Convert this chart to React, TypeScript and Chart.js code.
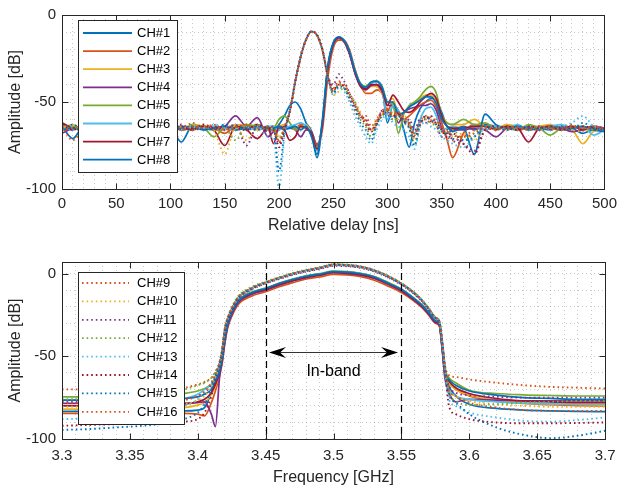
import React, { useEffect, useRef } from 'react';
import { Chart, registerables } from 'chart.js';

Chart.register(...registerables);

const FONT = "'Liberation Sans', Arial, Helvetica, sans-serif";
const AXIS_COLOR = '#262626';
const GRID_COLOR = 'rgba(38,38,38,0.25)';
const PALETTE = ['#0072BD', '#D95319', '#EDB120', '#7E2F8E', '#77AC30', '#4DBEEE', '#A2142F'];

// ---------- x values ----------
const delayNs = [0, 10, 20, 30, 40, 50, 60, 70, 80, 90, 100, 110, 120, 130, 140, 150, 160, 170, 180, 190,
  195, 200, 205, 210, 215, 220, 225, 230, 235, 240, 245, 250, 255, 260, 265, 270, 275, 280, 285, 290, 295,
  300, 305, 310, 315, 320, 325, 330, 335, 340, 345, 350, 355, 360,
  370, 380, 390, 400, 410, 420, 430, 440, 450, 460, 470, 480, 490, 500];

const freqGHz = [3.30, 3.32, 3.34, 3.36, 3.38, 3.39, 3.40, 3.405, 3.41, 3.413, 3.416, 3.418,
  3.42, 3.422, 3.425, 3.43, 3.44, 3.45, 3.46, 3.47, 3.48, 3.49, 3.50, 3.51, 3.52, 3.53, 3.54, 3.55, 3.56, 3.565, 3.57, 3.575, 3.578, 3.58, 3.582,
  3.585, 3.59, 3.60, 3.62, 3.64, 3.66, 3.68, 3.70];

const chLabels = ['CH#1', 'CH#2', 'CH#3', 'CH#4', 'CH#5', 'CH#6', 'CH#7', 'CH#8',
  'CH#9', 'CH#10', 'CH#11', 'CH#12', 'CH#13', 'CH#14', 'CH#15', 'CH#16'];

// ---------- delay profiles [dB] ----------
const delayCH1 = [-64, -71, -64, -66, -65, -64, -66, -65, -64, -66, -65, -73, -64, -65, -66, -64, -66, -64, -65, -66,
  -66, -63, -58, -52, -50, -54, -62, -67, -82, -62, -30, -16, -12.8, -15, -22, -33, -40, -42, -39, -38.5, -42,
  -62, -52, -55, -66, -76, -62, -54, -50, -48, -49, -56, -64, -66,
  -64, -66, -63, -64, -65, -66, -64, -65, -66, -64, -65, -68, -66, -66];
const delayCH2 = [-63, -66, -64, -65, -63, -66, -64, -65, -66, -63, -65, -64, -66, -64, -65, -68, -64, -65, -63, -66,
  -64, -65, -66, -64, -65, -63, -64, -68, -74, -66, -36, -19, -14.5, -14.5, -20, -31, -40, -45, -45, -43, -45,
  -55, -50, -56, -60, -58, -55, -52, -50, -49, -53, -62, -72, -82,
  -68, -63, -64, -65, -64, -66, -65, -64, -65, -66, -64, -65, -65, -65];
const delayCH3 = [-65, -63, -66, -64, -65, -63, -65, -64, -63, -65, -64, -66, -63, -64, -66, -65, -63, -64, -66, -64,
  -65, -64, -63, -65, -64, -65, -63, -68, -76, -63, -32, -17.5, -13.5, -15.5, -22, -33, -41, -43, -41, -41, -45,
  -50, -48, -58, -56, -53, -50, -48, -46, -46, -50, -58, -62, -63,
  -63, -60, -64, -65, -63, -64, -66, -64, -63, -65, -66, -74, -67, -66];
const delayCH4 = [-68, -65, -64, -66, -65, -64, -65, -66, -64, -65, -66, -64, -65, -64, -66, -64, -58, -64, -59, -70,
  -67, -66, -64, -65, -66, -70, -66, -67, -75, -63, -32, -17.5, -13.5, -15.5, -22.5, -33.5, -41, -43, -40.5, -40, -44,
  -52, -52, -62, -56, -54, -53, -52, -52, -51, -55, -65, -68, -66,
  -66, -65, -66, -70, -65, -64, -65, -66, -64, -65, -67, -66, -64, -65];
const delayCH5 = [-66, -64, -65, -63, -66, -65, -64, -66, -65, -64, -63, -65, -66, -65, -70, -65, -66, -63, -64, -65,
  -65, -60, -58, -62, -66, -64, -65, -68, -76, -62, -31, -17, -13, -15, -21.5, -32, -39, -41, -38.5, -38, -41,
  -50, -51, -68, -57, -52, -50, -47, -43, -41, -45, -58, -62, -63,
  -60, -63, -62, -65, -64, -66, -63, -65, -69, -65, -64, -65, -64, -66];
const delayCH6 = [-65, -66, -64, -65, -66, -64, -65, -63, -65, -66, -64, -65, -64, -66, -64, -65, -64, -66, -65, -64,
  -64, -66, -65, -64, -63, -62, -64, -69, -78, -62, -30, -16.5, -13, -15, -21.5, -32.5, -40, -42, -39, -38.5, -42,
  -60, -52, -55, -60, -62, -68, -60, -54, -53, -58, -66, -65, -64,
  -65, -64, -66, -64, -65, -63, -66, -65, -64, -63, -65, -64, -69, -66];
const delayCH7 = [-62, -65, -66, -64, -65, -66, -64, -65, -63, -65, -64, -66, -65, -64, -66, -75, -64, -66, -71, -65,
  -74, -64, -66, -72, -70, -64, -65, -68, -77, -63, -31, -17, -13, -15, -22, -33, -40.5, -42.5, -40, -40, -43,
  -52, -46, -50, -55, -56, -54, -50, -47, -45, -48, -58, -64, -65,
  -65, -64, -64, -66, -64, -65, -73, -65, -64, -65, -64, -66, -65, -65];
const delayCH8 = [-66, -65, -67, -64, -66, -65, -63, -65, -66, -64, -66, -65, -64, -66, -65, -64, -66, -65, -64, -65,
  -65, -64, -66, -65, -64, -66, -64, -70, -80, -60, -29, -16, -12.5, -14.5, -21, -32, -39.5, -41.5, -38.5, -38, -41.5,
  -50, -50, -57, -56, -53, -51, -49, -47, -47, -51, -60, -64, -67,
  -65, -80, -57, -63, -65, -64, -66, -65, -64, -66, -65, -64, -66, -67];
const delayCH9 = [-64, -72, -65, -63, -66, -64, -65, -66, -63, -65, -64, -66, -62, -65, -64, -66, -65, -63, -66, -64,
  -66, -72, -64, -56, -38, -24, -14, -9.5, -11.5, -20, -35, -42, -38, -42, -48, -55, -60, -58, -64, -60, -55,
  -54, -58, -56, -60, -64, -68, -62, -60, -62, -60, -66, -70, -72,
  -70, -66, -64, -65, -66, -64, -65, -66, -64, -65, -63, -66, -65, -65];
const delayCH10 = [-66, -64, -65, -66, -63, -65, -66, -64, -65, -63, -66, -64, -65, -63, -66, -80, -64, -72, -65, -66,
  -65, -70, -65, -55, -39, -24.5, -14.5, -10, -12, -20.5, -36, -46, -44, -40, -47, -50, -56, -62, -66, -60, -58,
  -57, -56, -60, -58, -62, -72, -64, -58, -60, -64, -68, -66, -70,
  -68, -72, -65, -64, -66, -65, -64, -66, -65, -64, -66, -67, -65, -66];
const delayCH11 = [-65, -66, -63, -65, -64, -66, -65, -63, -66, -64, -65, -63, -66, -65, -64, -66, -63, -75, -64, -67,
  -67, -74, -66, -56, -38.5, -24, -14, -9.5, -11.5, -20, -35, -40, -34, -38, -45, -52, -58, -60, -66, -62, -55,
  -57, -60, -56, -62, -60, -66, -60, -62, -58, -63, -70, -66, -72,
  -74, -78, -66, -65, -64, -66, -65, -64, -66, -65, -64, -66, -64, -65];
const delayCH12 = [-64, -65, -66, -64, -65, -63, -66, -65, -64, -66, -64, -65, -63, -64, -66, -65, -72, -64, -63, -66,
  -66, -71, -65, -55, -38, -23.5, -13.5, -9.5, -11, -19.5, -34.5, -44, -40, -42, -46, -50, -60, -64, -70, -62, -58,
  -54, -60, -58, -62, -65, -74, -63, -60, -62, -64, -66, -68, -66,
  -72, -68, -64, -66, -65, -64, -66, -65, -64, -66, -65, -64, -66, -65];
const delayCH13 = [-66, -64, -65, -63, -66, -65, -64, -66, -65, -64, -63, -66, -64, -65, -63, -64, -66, -65, -64, -70,
  -70, -100, -70, -55, -38, -24, -14, -9.5, -11.5, -20, -35, -46, -42, -44, -50, -58, -64, -70, -74, -66, -60,
  -57, -62, -64, -66, -70, -77, -64, -62, -64, -66, -70, -72, -74,
  -76, -70, -65, -64, -66, -65, -64, -65, -66, -64, -62, -58, -64, -66];
const delayCH14 = [-63, -66, -64, -65, -66, -64, -63, -65, -64, -66, -65, -64, -66, -63, -65, -64, -65, -66, -63, -65,
  -66, -76, -66, -55, -38, -24, -14, -9.5, -11.5, -20, -35, -43, -40, -41, -47, -53, -58, -63, -67, -63, -56,
  -55, -58, -57, -61, -63, -70, -63, -58, -61, -62, -66, -70, -68,
  -74, -80, -66, -64, -65, -66, -64, -65, -64, -66, -65, -64, -65, -66];
const delayCH15 = [-65, -63, -66, -65, -64, -65, -66, -64, -63, -65, -66, -65, -64, -66, -65, -63, -64, -65, -66, -64,
  -64, -90, -68, -55, -38, -24, -14, -9.5, -11.5, -20, -35, -45, -41, -42, -48, -54, -62, -66, -72, -63, -58,
  -56, -59, -58, -61, -65, -75, -62, -59, -60, -63, -67, -69, -71,
  -72, -70, -64, -65, -66, -64, -65, -66, -65, -64, -66, -62, -65, -66];
const delayCH16 = [-66, -65, -64, -66, -65, -64, -63, -65, -66, -64, -65, -66, -64, -65, -63, -66, -64, -63, -65, -64,
  -65, -73, -65, -56, -38.5, -24, -14, -9.5, -11.5, -20, -35, -44, -39, -40, -45, -51, -57, -61, -66, -61, -57,
  -55, -57, -56, -59, -62, -69, -61, -58, -59, -61, -65, -67, -69,
  -70, -68, -65, -66, -64, -65, -66, -64, -65, -66, -64, -65, -64, -65];

// ---------- frequency responses [dB] ----------
const freqCH1 = [-83.3, -83.3, -83.3, -83.2, -83, -83, -82.5, -81, -72, -66, -60, -52,
  -39, -30, -23.5, -16.5, -11.5, -9, -6, -3.5, -1.5, -0.3, 1.2, 1, 0, -2, -5.5, -9.5, -15.5, -19, -23.5, -28.5, -30.5, -44, -59,
  -68, -74, -79, -81.5, -82.5, -83, -83.3, -83.5];
const freqCH2 = [-84.5, -84.5, -84.5, -84.5, -84.5, -84.5, -85, -86, -78, -71, -62, -54,
  -42, -33, -26, -18.5, -13.5, -11, -8, -5.5, -3.3, -2, -0.5, -0.8, -1.8, -4, -7.5, -11.5, -17, -20.5, -25, -30, -32, -45, -61,
  -66, -70, -74, -77, -78.5, -79.3, -79.8, -80];
const freqCH3 = [-82, -82, -82, -82, -81.5, -81, -79.5, -78, -73, -68, -61, -53,
  -40, -31, -24, -17, -12, -9.5, -6.5, -4, -2, -0.7, 0.8, 0.5, -0.5, -2.5, -6, -10, -16, -19.5, -24, -29, -31, -44, -60,
  -66, -70, -73.5, -76.5, -78, -78.8, -79.3, -79.5];
const freqCH4 = [-78.5, -78.5, -78.5, -78.5, -78.5, -78.3, -78, -77.5, -85, -92.5, -63, -53,
  -41, -32, -25, -17.5, -12.5, -10, -7, -4.5, -2.5, -1, 0.5, 0, -1, -3, -6.5, -10.5, -16.5, -20, -24.5, -29.5, -31.5, -46, -63,
  -72, -77.5, -76, -76.5, -77, -77, -77, -77];
const freqCH5 = [-74.5, -74.5, -74.5, -74.3, -73.5, -72.5, -71, -69.5, -67, -64, -58, -50,
  -38, -30, -23, -16, -11, -8.8, -5.8, -3.3, -1.3, 0, 1.5, 1.2, 0.2, -1.8, -5.3, -9.3, -15.3, -18.8, -23.3, -28.3, -30.3, -42, -57,
  -63, -66, -70.5, -72.5, -73.3, -73.7, -74, -74];
const freqCH6 = [-76.5, -76.5, -76.5, -76.5, -76, -75.5, -73, -70, -67, -63, -58, -51,
  -39, -30.5, -23.5, -16.5, -11.5, -9.2, -6.2, -3.7, -1.7, -0.4, 1, 0.8, -0.2, -2.2, -5.8, -9.8, -15.8, -19.3, -23.8, -28.8, -30.8, -44, -60,
  -70, -74, -76, -77.5, -78.3, -78.7, -79, -79];
const freqCH7 = [-80, -80, -80, -79.8, -79.5, -79, -77.5, -76, -72, -67, -60, -52,
  -40, -31, -24, -17, -12, -9.6, -6.6, -4.1, -2.1, -0.8, 0.7, 0.4, -0.6, -2.6, -6.2, -10.2, -16.2, -19.7, -24.2, -29.2, -31.2, -44.5, -60,
  -65, -69, -72.5, -75.5, -77, -77.5, -78, -78];
const freqCH8 = [-76.5, -76.5, -76.5, -76.3, -76, -75.5, -74.5, -73, -70, -65, -59, -51,
  -39, -30.5, -23.5, -16.5, -11.5, -9, -6, -3.6, -1.6, -0.3, 1.2, 0.9, -0.1, -2.1, -5.7, -9.6, -15.6, -19.1, -23.6, -28.6, -30.6, -43.5, -59,
  -64, -67.5, -71, -73.5, -75, -75.5, -76, -76];
const freqCH9 = [-70, -70, -70, -70, -69.5, -69, -67, -65.5, -63, -60, -54, -46,
  -33, -27, -21, -14, -8.5, -5.2, -2.5, 0, 2, 3.6, 5.5, 5.2, 4.2, 2, -1.5, -6, -12, -16, -21, -26.5, -29, -40, -55,
  -61.5, -62.5, -64, -66, -67.5, -68.5, -69, -69.5];
const freqCH10 = [-80.5, -80.5, -80.5, -80.3, -80, -79, -76.5, -74, -68, -62, -55, -47,
  -34, -27.5, -21.5, -14.5, -9, -5.6, -2.8, -0.3, 1.7, 3.3, 5.2, 4.9, 3.9, 1.7, -1.8, -6.3, -12.3, -16.3, -21.3, -26.8, -29.3, -41, -57,
  -70, -74, -77, -79, -80, -80.5, -80.5, -80.5];
const freqCH11 = [-77.5, -77.5, -77.5, -77.3, -77, -76, -74, -72, -67, -61, -54, -46,
  -34, -28, -22, -15, -9.5, -6, -3.3, -0.8, 1.2, 2.8, 4.7, 4.4, 3.4, 1.2, -2.3, -6.8, -12.8, -16.8, -21.8, -27.3, -29.8, -42, -58,
  -68, -72, -73.5, -74.5, -75, -75, -75, -75];
const freqCH12 = [-76, -76, -75.5, -74.5, -72, -70, -67.5, -66, -63, -59, -53, -45,
  -32.5, -26.5, -20.5, -13.5, -8, -4.8, -2.1, 0.4, 2.4, 4, 5.8, 5.5, 4.5, 2.3, -1.2, -5.7, -11.7, -15.7, -20.7, -26.2, -28.7, -40, -55,
  -72, -77, -79.5, -79, -78, -77.5, -77, -77];
const freqCH13 = [-88, -87.5, -86.5, -85, -82, -80, -76, -72, -66, -61, -54, -46,
  -33.5, -27.5, -21.5, -14.5, -9, -5.5, -2.7, -0.2, 1.8, 3.4, 5.3, 5, 4, 1.8, -1.7, -6.2, -12.2, -16.2, -21.2, -26.7, -29.2, -41, -57,
  -76, -80, -84, -87, -89, -89.5, -88.5, -87];
const freqCH14 = [-92, -91.5, -91, -90.5, -90, -89.5, -88, -84, -74, -64, -55, -47,
  -34, -28, -22, -15, -9.3, -5.8, -3, -0.5, 1.5, 3.1, 5, 4.7, 3.7, 1.5, -2, -6.5, -12.5, -16.5, -21.5, -27, -29.5, -41.5, -57,
  -80, -85, -88, -90, -90.5, -90.5, -90.3, -90];
const freqCH15 = [-94.5, -94, -93, -92, -90, -88, -84, -79, -70, -62, -55, -47,
  -33.5, -27.5, -21.5, -14.5, -8.8, -5.4, -2.6, -0.1, 1.9, 3.5, 5.4, 5.1, 4.1, 1.9, -1.6, -6.1, -12.1, -16.1, -21.1, -26.6, -29.1, -41, -56,
  -73, -78, -85, -93, -97.5, -99.5, -98, -95];
const freqCH16 = [-78, -78, -78, -77.8, -77.5, -76.5, -74, -71, -66, -61, -54, -46,
  -33, -27, -21, -14, -8.7, -5.3, -2.5, 0, 2, 3.6, 5.5, 5.2, 4.2, 2, -1.5, -6, -12, -16, -21, -26.5, -29, -40.5, -56,
  -70, -74, -78, -81, -82.5, -83, -83, -83];

const delaySeries = [delayCH1, delayCH2, delayCH3, delayCH4, delayCH5, delayCH6, delayCH7, delayCH8,
  delayCH9, delayCH10, delayCH11, delayCH12, delayCH13, delayCH14, delayCH15, delayCH16];
const freqSeries = [freqCH1, freqCH2, freqCH3, freqCH4, freqCH5, freqCH6, freqCH7, freqCH8,
  freqCH9, freqCH10, freqCH11, freqCH12, freqCH13, freqCH14, freqCH15, freqCH16];

// annotation values
const bandEdgesGHz = [3.45, 3.55];
const bandArrowGHz = [3.4525, 3.5475];
const bandArrowDb = -47.5;
const bandLabelGHz = 3.5;
const bandLabelDb = -59;
const bandLabel = 'In-band';

function makeDatasets(xs: number[], series: number[][]) {
  return series.map((vals, i) => ({
    label: chLabels[i],
    data: xs.map((x, k) => ({ x, y: vals[k] })),
    borderColor: PALETTE[i % 7],
    backgroundColor: PALETTE[i % 7],
    borderWidth: i >= 8 ? 1.9 : 1.7,
    borderDash: i >= 8 ? [1.6, 3] : [],
    borderCapStyle: 'butt',
    pointRadius: 0,
    fill: false,
    cubicInterpolationMode: 'monotone',
    order: 16 - i,
  }));
}

type LegendSpec = {
  indices: number[]; x: number; y: number; h: number; firstY: number; rowH: number;
  lineX1: number; lineX2: number; textX: number;
};

function decorPlugin(legend: LegendSpec, band: boolean) {
  return {
    id: 'matlabDecor',
    afterDatasetsDraw(chart: any) {
      const ctx: CanvasRenderingContext2D = chart.ctx;
      const a = chart.chartArea;
      const xs = chart.scales.x;
      const ys = chart.scales.y;
      ctx.save();
      if (band) {
        ctx.strokeStyle = '#000';
        ctx.lineWidth = 1.2;
        ctx.setLineDash([7, 4]);
        bandEdgesGHz.forEach((f) => {
          const px = Math.round(xs.getPixelForValue(f)) + 0.5;
          ctx.beginPath();
          ctx.moveTo(px, a.top);
          ctx.lineTo(px, a.bottom);
          ctx.stroke();
        });
        ctx.setLineDash([]);
        const y = Math.round(ys.getPixelForValue(bandArrowDb)) + 0.5;
        const xl = xs.getPixelForValue(bandArrowGHz[0]);
        const xr = xs.getPixelForValue(bandArrowGHz[1]);
        ctx.strokeStyle = '#333';
        ctx.lineWidth = 1;
        ctx.beginPath();
        ctx.moveTo(xl + 10, y);
        ctx.lineTo(xr - 10, y);
        ctx.stroke();
        ctx.fillStyle = '#000';
        const head = (tip: number, dir: number) => {
          ctx.beginPath();
          ctx.moveTo(tip, y);
          ctx.lineTo(tip + dir * 17, y - 5.5);
          ctx.lineTo(tip + dir * 11, y);
          ctx.lineTo(tip + dir * 17, y + 5.5);
          ctx.closePath();
          ctx.fill();
        };
        head(xl, 1);
        head(xr, -1);
        ctx.font = `16px ${FONT}`;
        ctx.textAlign = 'center';
        ctx.textBaseline = 'middle';
        ctx.fillText(bandLabel, xs.getPixelForValue(bandLabelGHz), ys.getPixelForValue(bandLabelDb));
      }
      // axes box
      ctx.strokeStyle = AXIS_COLOR;
      ctx.lineWidth = 1;
      ctx.setLineDash([]);
      const L = Math.round(a.left) + 0.5;
      const R = Math.round(a.right) + 0.5;
      const T = Math.round(a.top) + 0.5;
      const B = Math.round(a.bottom) + 0.5;
      ctx.strokeRect(L, T, R - L, B - T);
      // inward ticks
      const TL = 6;
      ctx.beginPath();
      xs.ticks.forEach((t: any) => {
        if (t.label === '' || t.label == null) return;
        const px = Math.round(xs.getPixelForValue(t.value)) + 0.5;
        ctx.moveTo(px, B); ctx.lineTo(px, B - TL);
        ctx.moveTo(px, T); ctx.lineTo(px, T + TL);
      });
      ys.ticks.forEach((t: any) => {
        if (t.label === '' || t.label == null) return;
        const py = Math.round(ys.getPixelForValue(t.value)) + 0.5;
        ctx.moveTo(L, py); ctx.lineTo(L + TL, py);
        ctx.moveTo(R, py); ctx.lineTo(R - TL, py);
      });
      ctx.stroke();
      // legend
      ctx.font = `13px ${FONT}`;
      const ds = chart.data.datasets;
      const textW = Math.max(...legend.indices.map((i) => ctx.measureText(ds[i].label).width));
      const w = legend.textX - legend.x + textW + 7;
      ctx.fillStyle = '#fff';
      ctx.fillRect(legend.x, legend.y, w, legend.h);
      ctx.strokeStyle = AXIS_COLOR;
      ctx.lineWidth = 1;
      ctx.strokeRect(legend.x + 0.5, legend.y + 0.5, Math.round(w), legend.h);
      legend.indices.forEach((di, k) => {
        const y = legend.firstY + k * legend.rowH;
        ctx.strokeStyle = ds[di].borderColor;
        ctx.lineWidth = 1.8;
        ctx.setLineDash(ds[di].borderDash || []);
        ctx.beginPath();
        ctx.moveTo(legend.lineX1, y);
        ctx.lineTo(legend.lineX2, y);
        ctx.stroke();
        ctx.setLineDash([]);
        ctx.fillStyle = '#000';
        ctx.textAlign = 'left';
        ctx.textBaseline = 'middle';
        ctx.fillText(ds[di].label, legend.textX, y + 0.5);
      });
      ctx.restore();
    },
  };
}

const tickFont = { size: 15, family: FONT };
const titleFont = { size: 16, family: FONT };

function majorLabel(step: number, digits: number) {
  return (v: number) => {
    const r = Math.round(v * Math.pow(10, digits));
    const s = Math.round(step * Math.pow(10, digits));
    if (r % s !== 0) return '';
    const n = parseFloat(v.toFixed(digits));
    return String(n === 0 ? 0 : n);
  };
}

function topConfig(): any {
  return {
    type: 'line',
    data: { datasets: makeDatasets(delayNs, delaySeries) },
    options: {
      animation: false,
      responsive: false,
      maintainAspectRatio: false,
      events: [],
      layout: { padding: { left: 0, right: 13, top: 10, bottom: 0 } },
      plugins: { legend: { display: false }, tooltip: { enabled: false } },
      scales: {
        x: {
          type: 'linear', min: 0, max: 500,
          ticks: { stepSize: 10, autoSkip: false, maxRotation: 0, minRotation: 0, padding: 6, color: AXIS_COLOR, font: tickFont, callback: majorLabel(50, 0) },
          grid: { color: GRID_COLOR, lineWidth: 1, drawTicks: false },
          border: { display: false, dash: [1, 3] },
          title: { display: true, text: 'Relative delay [ns]', color: AXIS_COLOR, font: titleFont, padding: { top: 0, bottom: 10.4 } },
          afterFit: (s: any) => { s.height = 57; },
        },
        y: {
          type: 'linear', min: -100, max: 0,
          ticks: { stepSize: 10, autoSkip: false, includeBounds: false, padding: 6, color: AXIS_COLOR, font: tickFont, callback: majorLabel(50, 0) },
          grid: { color: GRID_COLOR, lineWidth: 1, drawTicks: false },
          border: { display: false, dash: [1, 3] },
          title: { display: true, text: 'Amplitude [dB]', color: AXIS_COLOR, font: titleFont, padding: { top: 6.4, bottom: 0 } },
          afterFit: (s: any) => { s.width = 62; },
        },
      },
    },
    plugins: [decorPlugin({ indices: [0, 1, 2, 3, 4, 5, 6, 7], x: 78, y: 20, h: 152, firstY: 33, rowH: 18.1, lineX1: 83, lineX2: 132, textX: 137 }, false)],
  };
}

function bottomConfig(): any {
  return {
    type: 'line',
    data: { datasets: makeDatasets(freqGHz, freqSeries) },
    options: {
      animation: false,
      responsive: false,
      maintainAspectRatio: false,
      events: [],
      layout: { padding: { left: 0, right: 13, top: 16, bottom: 0 } },
      plugins: { legend: { display: false }, tooltip: { enabled: false } },
      scales: {
        x: {
          type: 'linear', min: 3.3, max: 3.7,
          ticks: { stepSize: 0.01, autoSkip: false, maxRotation: 0, minRotation: 0, padding: 7.5, color: AXIS_COLOR, font: tickFont, callback: majorLabel(0.05, 2) },
          grid: { color: GRID_COLOR, lineWidth: 1, drawTicks: false },
          border: { display: false, dash: [1, 3] },
          title: { display: true, text: 'Frequency [GHz]', color: AXIS_COLOR, font: titleFont, padding: { top: 0, bottom: 4.9 } },
          afterFit: (s: any) => { s.height = 53; },
        },
        y: {
          type: 'linear', min: -100, max: 7,
          ticks: { stepSize: 10, autoSkip: false, includeBounds: false, padding: 6, color: AXIS_COLOR, font: tickFont, callback: majorLabel(50, 0) },
          grid: { color: GRID_COLOR, lineWidth: 1, drawTicks: false },
          border: { display: false, dash: [1, 3] },
          title: { display: true, text: 'Amplitude [dB]', color: AXIS_COLOR, font: titleFont, padding: { top: 6.4, bottom: 0 } },
          afterFit: (s: any) => { s.width = 62; },
        },
      },
    },
    plugins: [decorPlugin({ indices: [8, 9, 10, 11, 12, 13, 14, 15], x: 78, y: 26, h: 152, firstY: 37, rowH: 18.4, lineX1: 82, lineX2: 129, textX: 137 }, true)],
  };
}

function Panel({ make, top }: { make: () => any; top: number }) {
  const ref = useRef<HTMLCanvasElement>(null);
  useEffect(() => {
    if (!ref.current) return;
    const chart = new Chart(ref.current, make());
    return () => chart.destroy();
  }, [make]);
  return (
    <canvas
      ref={ref}
      width={623}
      height={246}
      style={{ position: 'absolute', left: 0, top, width: 623, height: 246, display: 'block' }}
    />
  );
}

export default function App() {
  return (
    <div style={{ position: 'absolute', left: 0, top: 0, width: 623, height: 492, background: '#fff', overflow: 'hidden' }}>
      <Panel make={topConfig} top={0} />
      <Panel make={bottomConfig} top={246} />
    </div>
  );
}
